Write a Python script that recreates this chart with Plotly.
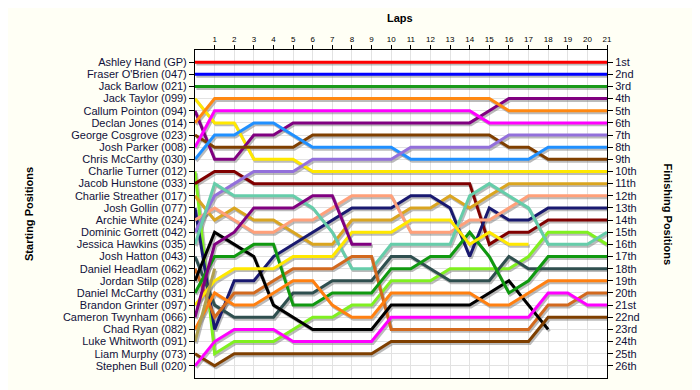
import plotly.graph_objects as go

N = None
laps = list(range(22))
lap_ticks = list(range(1, 22))
start_labels = ["Ashley Hand (GP)", "Fraser O'Brien (047)", "Jack Barlow (021)", "Jack Taylor (099)",
                "Callum Pointon (094)", "Declan Jones (014)", "George Cosgrove (023)", "Josh Parker (008)",
                "Chris McCarthy (030)", "Charlie Turner (012)", "Jacob Hunstone (033)", "Charlie Streather (017)",
                "Josh Gollin (077)", "Archie White (024)", "Dominic Gorrett (042)", "Jessica Hawkins (035)",
                "Josh Hatton (043)", "Daniel Headlam (062)", "Jordan Stilp (028)", "Daniel McCarthy (031)",
                "Brandon Grinter (097)", "Cameron Twynham (066)", "Chad Ryan (082)", "Luke Whitworth (091)",
                "Liam Murphy (073)", "Stephen Bull (020)"]
finish_labels = ["1st", "2nd", "3rd", "4th", "5th", "6th", "7th", "8th", "9th", "10th", "11th", "12th", "13th",
                 "14th", "15th", "16th", "17th", "18th", "19th", "20th", "21st", "22nd", "23rd", "24th", "25th", "26th"]

hand      = [1, 1, 1, 1, 1, 1, 1, 1, 1, 1, 1, 1, 1, 1, 1, 1, 1, 1, 1, 1, 1, 1]
obrien    = [2, 2, 2, 2, 2, 2, 2, 2, 2, 2, 2, 2, 2, 2, 2, 2, 2, 2, 2, 2, 2, 2]
barlow    = [3, 3, 3, 3, 3, 3, 3, 3, 3, 3, 3, 3, 3, 3, 3, 3, 3, 3, 3, 3, 3, 3]
taylor    = [4, 6, 6, 9, 9, 9, 10, 10, 10, 10, 10, 10, 10, 10, 10, 10, 10, 10, 10, 10, 10, 10]
pointon   = [5, 9, 9, 7, 7, 6, 6, 6, 6, 6, 6, 6, 6, 6, 6, 5, 4, 4, 4, 4, 4, 4]
jones     = [6, 4, 4, 4, 4, 4, 4, 4, 4, 4, 4, 4, 4, 4, 4, 4, 5, 5, 5, 5, 5, 5]
cosgrove  = [7, 8, 8, 8, 8, 8, 7, 7, 7, 7, 7, 7, 7, 7, 7, 7, 8, 8, 9, 9, 9, 9]
parker    = [8, 5, 5, 5, 5, 5, 5, 5, 5, 5, 5, 5, 5, 5, 5, 6, 6, 6, 6, 6, 6, 6]
cmccarthy = [9, 7, 7, 6, 6, 7, 8, 8, 8, 8, 8, 9, 9, 9, 9, 9, 9, 9, 8, 8, 8, 8]
turner    = [10, 25, 24, 24, 24, 23, 22, 22, 21, 21, 19, 19, 19, 18, 18, 18, 18, 17, 15, 15, 15, 16]
hunstone  = [11, 10, 10, 11, 11, 11, 11, 11, 11, 11, 11, 11, 11, 11, 11, 16, 15, 15, 14, 14, 14, 14]
streather = [12, 14, 13, 14, 14, 15, 16, 16, 14, 14, 14, 13, 13, 12, 13, 12, 11, 11, 11, 11, 11, 11]
gollin    = [13, 23, 19, 19, 17, 16, 15, 14, 13, 13, 13, 12, 12, 13, 17, 13, 14, 14, 13, 13, 13, 13]
white     = [14, 13, 14, 15, 15, 14, 14, 13, 12, 12, 12, 15, 15, 15, 14, 14, 13, 12, 12, 12, 12, 12]
gorrett   = [15, 12, 11, 10, 10, 10, 9, 9, 9, 9, 9, 8, 8, 8, 8, 8, 7, 7, 7, 7, 7, 7]
hawkins   = [16, 11, 12, 12, 12, 12, 13, 15, 18, 18, 16, 16, 16, 16, 12, 11, 12, 13, 16, 16, 16, 15]
hatton    = [17, 21, 22, 22, 22, 20, 20, 19, 19, 19, 17, 17, 18, 19, 19, 19, 17, 18, 18, 18, 18, 18]
headlam   = [18, 22, 20, 20, 19, 18, 18, 18, 17, 17, 23, 23, 23, 23, 23, 23, 23, 23, 21, 21, 20, 20]
stilp     = [19, 15, 16, 17, 21, 22, 23, 23, 23, 23, 21, 21, 21, 21, 21, 20, 19, 21, 23, N, N, N]
dmccarthy = [20, 17, 17, 16, 16, 21, 21, 20, 20, 20, 18, 18, 17, 17, 15, 17, 20, 19, 17, 17, 17, 17]
grinter   = [21, 19, 18, 18, 18, 17, 17, 17, 15, 15, 15, 14, 14, 14, 16, 15, 16, 16, N, N, N, N]
twynham   = [22, 16, 15, 13, 13, 13, 12, 12, 16, 16, N, N, N, N, N, N, N, N, N, N, N, N]
ryan      = [23, 20, 21, 21, 20, 19, 19, 21, 22, 22, 20, 20, 20, 20, 20, 21, 21, 20, 19, 19, 19, 19]
whitworth = [24, 18, N, N, N, N, N, N, N, N, N, N, N, N, N, N, N, N, N, N, N, N]
murphy    = [25, 26, 25, 25, 25, 25, 25, 25, 25, 25, 24, 24, 24, 24, 24, 24, 24, 24, 22, 22, 22, 22]
bull      = [26, 24, 23, 23, 23, 24, 24, 24, 24, 24, 22, 22, 22, 22, 22, 22, 22, 22, 20, 20, 21, 21]

series = [hand, obrien, barlow, taylor, pointon, jones, cosgrove, parker, cmccarthy, turner, hunstone,
          streather, gollin, white, gorrett, hawkins, hatton, headlam, stilp, dmccarthy, grinter, twynham,
          ryan, whitworth, murphy, bull]
colors = ["#FF0000", "#0000FF", "#1A9A1A", "#FFE800", "#800080", "#FF8811", "#7F3F00", "#FF00FF",
          "#2090FF", "#80F020", "#800000", "#DAA520", "#191970", "#FFA07A", "#9370DB", "#66CDAA",
          "#2F4F4F", "#D2691E", "#000000", "#109910", "#FFE800", "#800080", "#FF8011", "#B0A050",
          "#7F3F00", "#FF00FF"]

fig = go.Figure()
# drop shadows under each line
for s in series:
    fig.add_trace(go.Scatter(x=[l + 0.07 for l in laps], y=[None if v is None else v + 0.16 for v in s],
                             mode="lines", line=dict(color="rgba(120,120,120,0.5)", width=3),
                             hoverinfo="skip", showlegend=False))
for name, s, c in zip(start_labels, series, colors):
    fig.add_trace(go.Scatter(x=laps, y=s, mode="lines", name=name,
                             line=dict(color=c, width=3), showlegend=False))
fig.add_trace(go.Scatter(x=[0], y=[1], yaxis="y2", mode="markers", marker=dict(opacity=0),
                         showlegend=False, hoverinfo="skip"))

font_txt = "Liberation Sans, Arial, sans-serif"
tc = "#10103A"
fig.update_layout(
    width=692, height=382,
    margin=dict(l=187, r=93, t=42, b=12),
    paper_bgcolor="#FFFFF5", plot_bgcolor="#FFFFFF",
    font=dict(family=font_txt, color=tc, size=11),
    xaxis=dict(range=[0, 21], side="top", tickvals=lap_ticks, ticktext=[str(t) for t in lap_ticks],
               ticks="outside", ticklen=4, tickcolor="#000", tickfont=dict(size=8, color="#000"),
               showgrid=True, gridcolor="#E2E2E2", gridwidth=1, showline=True, linecolor="#000",
               linewidth=1, mirror=True, zeroline=False, automargin=False),
    yaxis=dict(range=[27, 0], tickvals=list(range(1, 27)), ticktext=start_labels, ticks="outside",
               ticklen=5, tickcolor="#000", tickfont=dict(size=11, color=tc), showgrid=True,
               gridcolor="#E2E2E2", showline=True, linecolor="#000", linewidth=1, mirror=True,
               zeroline=False, automargin=False),
    yaxis2=dict(range=[27, 0], overlaying="y", side="right", tickvals=list(range(1, 27)),
                ticktext=finish_labels, ticks="outside", ticklen=5, tickcolor="#000",
                tickfont=dict(size=11, color=tc), showgrid=False, zeroline=False, showline=False,
                automargin=False),
    annotations=[
        dict(text="<b>Laps</b>", xref="paper", yref="paper", x=0.497, y=1.098, showarrow=False,
             font=dict(size=11, color="#000"), xanchor="center", yanchor="middle"),
        dict(text="<b>Starting Positions</b>", xref="paper", yref="paper", x=-0.403, y=0.5,
             showarrow=False, textangle=-90, font=dict(size=11, color="#000"), xanchor="center",
             yanchor="middle"),
        dict(text="<b>Finishing Positions</b>", xref="paper", yref="paper", x=1.149, y=0.5,
             showarrow=False, textangle=90, font=dict(size=11, color="#000"), xanchor="center",
             yanchor="middle"),
    ],
)
fig.write_html("out.html")
